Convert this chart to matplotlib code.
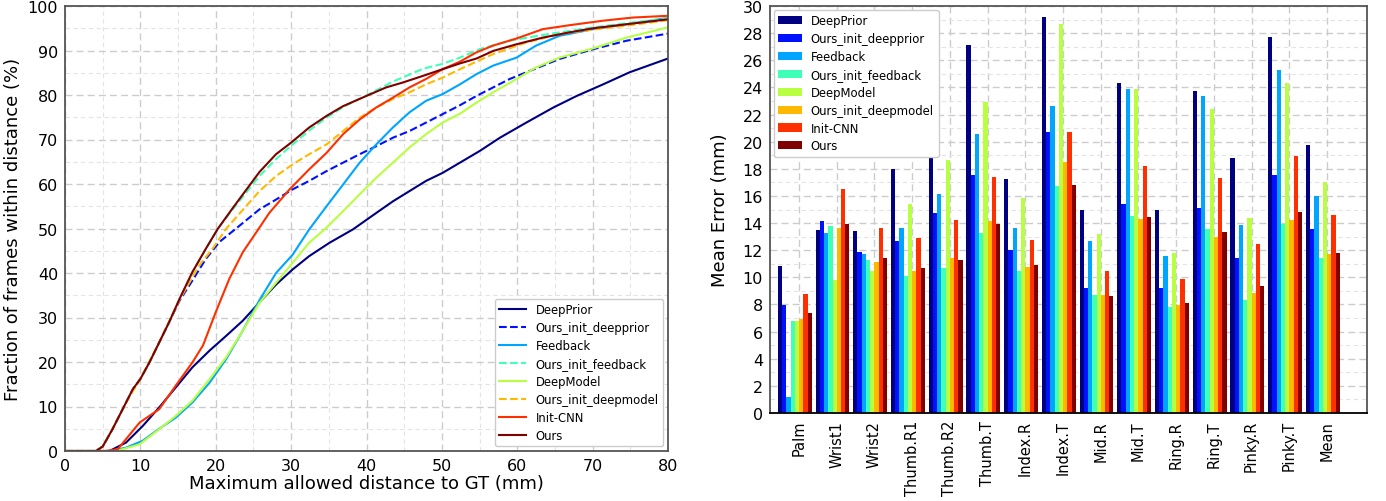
import numpy as np
import matplotlib
matplotlib.use('Agg')
import matplotlib.pyplot as plt
from matplotlib.ticker import MultipleLocator

# ---- left panel: cumulative error curves ----
methods = ['DeepPrior', 'Ours_init_deepprior', 'Feedback', 'Ours_init_feedback',
           'DeepModel', 'Ours_init_deepmodel', 'Init-CNN', 'Ours']

deepprior_x = [0, 5.9, 8.1, 10.3, 12.5, 14.7, 16.9, 19.2, 21.4, 23.6, 25.8, 28.0, 30.2, 32.4, 35.1,
               38.2, 41.3, 43.5, 45.7, 47.9, 50.1, 52.4, 55.0, 57.7, 61.2, 64.8, 67.9, 71.4, 74.9, 80]
deepprior_y = [0, 0, 1.9, 5.6, 9.8, 14.3, 18.8, 22.6, 25.9, 29.3, 33.4, 37.4, 40.8, 43.8, 46.8,
               49.8, 53.5, 56.1, 58.4, 60.7, 62.5, 64.8, 67.4, 70.4, 73.8, 77.2, 79.8, 82.4, 85.1, 88.2]

oidp_x = [0, 4.1, 5, 6.3, 8.1, 9, 10, 11.2, 12.5, 13.8, 15.2, 16.9, 18.7, 20.5, 22.7, 25.8, 28.0,
          30.2, 32.4, 34.7, 36.9, 39.1, 41.3, 43.5, 45.7, 47.9, 50.1, 52.4, 54.6, 56.8, 59.0, 61.2,
          65.6, 70.1, 74.5, 80]
oidp_y = [0, 0, 1, 4.9, 10.9, 13.9, 16.2, 19.9, 24.4, 28.9, 33.8, 38.3, 43.2, 47.0, 50.0, 54.3, 56.5,
          58.8, 60.7, 62.9, 64.8, 66.7, 68.5, 70.4, 71.9, 73.8, 75.7, 77.7, 79.8, 81.7, 83.6, 85.1,
          88.1, 90.3, 92.2, 93.8]

feedback_x = [0, 5.9, 8.1, 10.3, 12.5, 14.7, 16.9, 19.2, 21.4, 23.6, 25.8, 28.0, 30.2, 32.4, 34.7,
              36.9, 39.1, 41.3, 43.5, 45.7, 47.9, 50.1, 52.4, 54.6, 56.8, 59.9, 62.5, 65.6, 70.1,
              74.5, 80]
feedback_y = [0, 0, 0.75, 2.3, 5.0, 7.5, 10.9, 15.4, 20.7, 27.1, 33.9, 40.0, 44.1, 49.8, 55.0,
              59.9, 64.8, 68.9, 72.7, 76.1, 78.7, 80.2, 82.4, 84.7, 86.6, 88.4, 91.1, 93.3, 94.8,
              95.9, 97.3]

oifb_x = [0, 4.1, 5, 6.3, 8.1, 9, 10, 11.2, 12.5, 13.8, 15.2, 16.9, 18.7, 20.3, 22.3, 25.8, 28.0,
          30.0, 32.4, 34.7, 36.9, 40.0, 43.5, 47.5, 50.1, 52.4, 55.0, 59.0, 63.4, 70.1, 80]
oifb_y = [0, 0, 1, 4.9, 10.9, 13.9, 16.2, 19.9, 24.4, 28.9, 34.2, 40.2, 45.5, 50.0, 54.4, 61.8, 65.6,
          68.6, 72.0, 74.9, 77.3, 79.9, 83.0, 85.9, 87.0, 88.4, 90.3, 92.2, 93.5, 95.2, 97.3]

deepmodel_x = [0, 6.8, 9.9, 12.5, 14.7, 16.9, 19.2, 21.4, 23.6, 25.8, 28.0, 30.2, 32.4, 34.7, 36.9,
               39.1, 41.3, 43.5, 45.7, 47.9, 50.1, 52.4, 54.6, 56.8, 59.9, 62.5, 65.6, 70.1, 74.5, 80]
deepmodel_y = [0, 0, 1.5, 4.9, 7.9, 11.3, 16.2, 21.1, 27.1, 33.3, 37.8, 42.3, 46.8, 50.2, 53.9,
               57.7, 61.4, 64.8, 68.2, 71.2, 73.8, 75.8, 78.3, 80.6, 83.6, 86.2, 88.4, 90.5, 92.9, 95.2]

oidm_x = [0, 4.1, 5, 6.3, 8.1, 10, 12.5, 15.2, 17.8, 19.6, 21.4, 25.8, 28.0, 30.2, 32.4, 34.7, 36.9,
          39.1, 41.3, 43.5, 45.7, 47.9, 50.1, 52.4, 56.8, 61.2, 65.6, 70.1, 74.5, 80]
oidm_y = [0, 0, 1, 4.9, 10.9, 16.2, 24.4, 34.0, 41.7, 45.5, 50.0, 58.4, 61.8, 64.4, 66.7, 68.9, 71.9,
          74.9, 77.2, 79.1, 80.6, 82.4, 83.9, 85.8, 89.2, 91.8, 93.7, 94.7, 95.6, 96.8]

initcnn_x = [0, 5.4, 7.0, 9.9, 12.5, 14.7, 16.9, 18.3, 20.0, 21.8, 23.6, 25.4, 27.1, 29.8, 32.4,
             34.7, 36.9, 39.1, 41.3, 43.5, 45.7, 47.9, 50.1, 52.4, 54.6, 56.8, 59.9, 63.4, 67.0,
             71.4, 75.3, 80]
initcnn_y = [0, 0, 0.4, 6.4, 9.4, 14.7, 19.9, 23.7, 31.2, 38.7, 44.7, 49.2, 53.5, 58.8, 63.3,
             67.0, 71.2, 74.5, 77.2, 79.4, 81.7, 83.6, 85.8, 87.5, 89.6, 91.1, 92.7, 94.8, 95.7,
             96.7, 97.4, 97.8]

ours_x = [0, 4.1, 5, 6.3, 8.1, 9, 10, 11.2, 12.5, 13.8, 15.2, 16.9, 18.7, 20.3, 22.3, 25.8, 28.0,
          30.0, 32.4, 34.7, 36.9, 40.0, 42.6, 44.8, 47.5, 50.1, 52.4, 54.6, 56.8, 59.9, 63.4, 67.0,
          70.1, 74.5, 80]
ours_y = [0, 0, 1, 4.9, 10.9, 13.9, 16.2, 19.9, 24.4, 28.9, 34.2, 40.2, 45.5, 50.0, 54.7, 62.7, 66.7,
          69.3, 72.7, 75.3, 77.5, 79.8, 81.7, 82.8, 84.3, 85.8, 87.1, 88.2, 89.9, 91.4, 92.9, 94.1,
          95.0, 95.9, 97.0]

curves = [(deepprior_x, deepprior_y, '-'), (oidp_x, oidp_y, '--'),
          (feedback_x, feedback_y, '-'), (oifb_x, oifb_y, '--'),
          (deepmodel_x, deepmodel_y, '-'), (oidm_x, oidm_y, '--'),
          (initcnn_x, initcnn_y, '-'), (ours_x, ours_y, '-')]

# ---- right panel: per-joint mean error ----
joints = ['Palm', 'Wrist1', 'Wrist2', 'Thumb.R1', 'Thumb.R2', 'Thumb.T', 'Index.R', 'Index.T',
          'Mid.R', 'Mid.T', 'Ring.R', 'Ring.T', 'Pinky.R', 'Pinky.T', 'Mean']
err_deepprior = [10.84, 13.47, 13.4, 17.96, 22.32, 27.1, 17.22, 29.2, 14.97, 24.31, 14.97, 23.72, 18.79, 27.7, 19.75]
err_oidp = [7.95, 14.13, 11.87, 12.66, 14.72, 17.52, 12.0, 20.7, 9.22, 15.41, 9.22, 15.11, 11.43, 17.54, 13.57]
err_feedback = [1.2, 13.25, 11.7, 13.64, 16.12, 20.53, 13.64, 22.62, 12.68, 23.87, 11.58, 23.36, 13.86, 25.27, 16.0]
err_oifb = [6.8, 13.76, 11.29, 10.1, 10.7, 13.25, 10.45, 16.73, 8.71, 14.52, 7.83, 13.57, 8.34, 13.94, 11.43]
err_deepmodel = [6.8, 9.79, 10.45, 15.38, 18.62, 22.91, 15.82, 28.66, 13.2, 23.87, 11.8, 22.4, 14.38, 24.31, 17.03]
err_oidm = [6.94, 13.64, 11.11, 10.45, 11.43, 14.13, 10.75, 18.5, 8.71, 14.3, 7.97, 12.98, 8.86, 14.23, 11.73]
err_initcnn = [8.78, 16.49, 13.64, 12.9, 14.2, 17.37, 12.73, 20.7, 10.48, 18.2, 9.89, 17.32, 12.46, 18.94, 14.6]
err_ours = [7.38, 13.91, 11.43, 10.7, 11.29, 13.91, 10.92, 16.8, 8.66, 14.45, 8.12, 13.35, 9.37, 14.82, 11.8]
errors = [err_deepprior, err_oidp, err_feedback, err_oifb, err_deepmodel, err_oidm, err_initcnn, err_ours]

colors = plt.cm.jet(np.linspace(0, 1, len(methods)))


def style_grid(ax):
    ax.grid(which='major', color='#cccccc', linestyle=(0, (5, 3)), linewidth=1.0)
    ax.grid(which='minor', color='#e4e4e4', linestyle=(0, (4, 3)), linewidth=0.8)
    ax.set_axisbelow(True)
    for s in ax.spines.values():
        s.set_color('#555555')
        s.set_linewidth(1.3)
    ax.tick_params(which='both', length=0, labelsize=11.5, pad=5)


fig = plt.figure(figsize=(13.86, 5.02), dpi=100)

# left
ax1 = fig.add_axes([65 / 1386, 50 / 502, 603 / 1386, 445 / 502])
for (xs, ys, ls), name, c in zip(curves, methods, colors):
    ax1.plot(xs, ys, ls, color=c, lw=1.5, label=name)
ax1.set_xlim(0, 80)
ax1.set_ylim(0, 100)
ax1.xaxis.set_major_locator(MultipleLocator(10))
ax1.xaxis.set_minor_locator(MultipleLocator(5))
ax1.yaxis.set_major_locator(MultipleLocator(10))
ax1.yaxis.set_minor_locator(MultipleLocator(5))
style_grid(ax1)
ax1.set_xlabel('Maximum allowed distance to GT (mm)', fontsize=13, labelpad=1)
ax1.set_ylabel('Fraction of frames within distance (%)', fontsize=13, labelpad=4)
ax1.legend(loc='lower right', fontsize=8.4, labelspacing=0.42, framealpha=1, edgecolor='#cccccc',
           handlelength=2.3, borderaxespad=0.4)

# right
ax2 = fig.add_axes([770 / 1386, 88 / 502, 597 / 1386, 407 / 502])
ind = np.arange(len(joints))
w = 0.9 / len(methods)
for i, (vals, name, c) in enumerate(zip(errors, methods, colors)):
    ax2.bar(ind + (i - 4.5) * w, vals, w, color=c, label=name)
ax2.set_xticks(ind)
ax2.set_xticklabels(joints, rotation=90)
ax2.set_xlim(-0.77, 15.06)
ax2.set_ylim(0, 30)
ax2.yaxis.set_major_locator(MultipleLocator(2))
ax2.yaxis.set_minor_locator(MultipleLocator(1))
style_grid(ax2)
ax2.tick_params(axis='x', labelsize=10.5)
ax2.spines['bottom'].set_color('black')
ax2.set_ylabel('Mean Error (mm)', fontsize=13, labelpad=10)
ax2.legend(loc='upper left', borderaxespad=0.3, fontsize=8.4, labelspacing=0.42,
           framealpha=1, edgecolor='#cccccc')

fig.savefig('out.png', dpi=100)
